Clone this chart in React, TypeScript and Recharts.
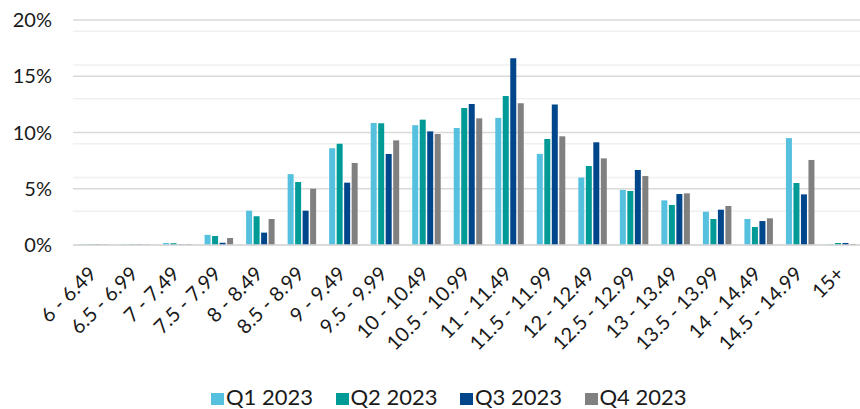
import React from 'react';
import { BarChart, Bar, XAxis, YAxis, CartesianGrid } from 'recharts';

const categories = [
  '6 - 6.49', '6.5 - 6.99', '7 - 7.49', '7.5 - 7.99', '8 - 8.49', '8.5 - 8.99',
  '9 - 9.49', '9.5 - 9.99', '10 - 10.49', '10.5 - 10.99', '11 - 11.49', '11.5 - 11.99',
  '12 - 12.49', '12.5 - 12.99', '13 - 13.49', '13.5 - 13.99', '14 - 14.49', '14.5 - 14.99', '15+',
];

const q1 = [0.05, 0.05, 0.18, 0.9, 3.05, 6.3, 8.6, 10.85, 10.65, 10.4, 11.3, 8.1, 6.0, 4.9, 3.97, 2.96, 2.31, 9.5, 0.06];
const q2 = [0.05, 0.05, 0.16, 0.8, 2.55, 5.6, 9.0, 10.82, 11.14, 12.18, 13.24, 9.42, 7.02, 4.8, 3.56, 2.31, 1.6, 5.51, 0.18];
const q3 = [0.05, 0.05, 0.04, 0.2, 1.1, 3.05, 5.54, 8.09, 10.1, 12.53, 16.59, 12.5, 9.13, 6.67, 4.53, 3.14, 2.13, 4.5, 0.18];
const q4 = [0.05, 0.05, 0.09, 0.62, 2.31, 5.0, 7.29, 9.3, 9.87, 11.26, 12.59, 9.66, 7.7, 6.13, 4.59, 3.47, 2.37, 7.56, 0.09];

const seriesNames = ['Q1 2023', 'Q2 2023', 'Q3 2023', 'Q4 2023'];
const seriesKeys = ['q1', 'q2', 'q3', 'q4'];
const seriesColors = ['#56c1df', '#009a97', '#00468b', '#808080'];

const majorTicks = [0, 5, 10, 15, 20];
const minorTicks = [1, 2, 3, 4, 6, 7, 8, 9, 11, 12, 13, 14, 16, 17, 18, 19];

const data = categories.map((c, i) => ({ cat: c, q1: q1[i], q2: q2[i], q3: q3[i], q4: q4[i] }));

const FONT = 'Lato, "Open Sans", sans-serif';

const XTick = (props: any) => {
  const { x, y, payload } = props;
  const ax = x + 4;
  const ay = y + 30;
  return (
    <text
      x={ax}
      y={ay}
      transform={`rotate(-45, ${ax}, ${ay})`}
      textAnchor="end"
      fontSize={20}
      fontFamily={FONT}
      fill="#1a1a1a"
    >
      {payload.value}
    </text>
  );
};

export default function App() {
  return (
    <div style={{ position: 'absolute', left: 0, top: 0, width: 860, height: 409, overflow: 'hidden', background: '#fff' }}>
      <BarChart
        width={870}
        height={409}
        data={data}
        margin={{ top: 20, right: 8, bottom: 0, left: 0 }}
        barSize={6}
        barGap={1.5}
      >
        <CartesianGrid horizontal vertical={false} horizontalValues={minorTicks} stroke="#f0f0f0" strokeWidth={1.3} />
        <CartesianGrid horizontal vertical={false} horizontalValues={majorTicks} stroke="#d9d9d9" strokeWidth={1.5} />
        <XAxis
          dataKey="cat"
          interval={0}
          tickLine={false}
          tickSize={0}
          tickMargin={0}
          axisLine={{ stroke: '#d9d9d9', strokeWidth: 1.5 }}
          height={164}
          tick={<XTick />}
        />
        <YAxis
          domain={[0, 20]}
          ticks={majorTicks}
          tickFormatter={(v: number) => `${v}%`}
          axisLine={false}
          tickLine={false}
          tickSize={0}
          tickMargin={21}
          width={73}
          tick={{ fontSize: 20, fontFamily: FONT, fill: '#1a1a1a' }}
        />
        {seriesKeys.map((k, i) => (
          <Bar key={k} dataKey={k} name={seriesNames[i]} fill={seriesColors[i]} isAnimationActive={false} />
        ))}
      </BarChart>
      <div style={{ position: 'absolute', left: 211, top: 386, width: 500, height: 23, display: 'flex', fontFamily: FONT, fontSize: 22, lineHeight: '22px', color: '#1a1a1a' }}>
        {seriesNames.map((n, i) => (
          <div key={n} style={{ width: 124.5, height: 22, display: 'flex', alignItems: 'center', whiteSpace: 'nowrap', flexShrink: 0 }}>
            <span style={{ display: 'inline-block', width: 13, height: 12, marginTop: 4, marginRight: 2, background: seriesColors[i] }} />
            <span>{n}</span>
          </div>
        ))}
      </div>
    </div>
  );
}
